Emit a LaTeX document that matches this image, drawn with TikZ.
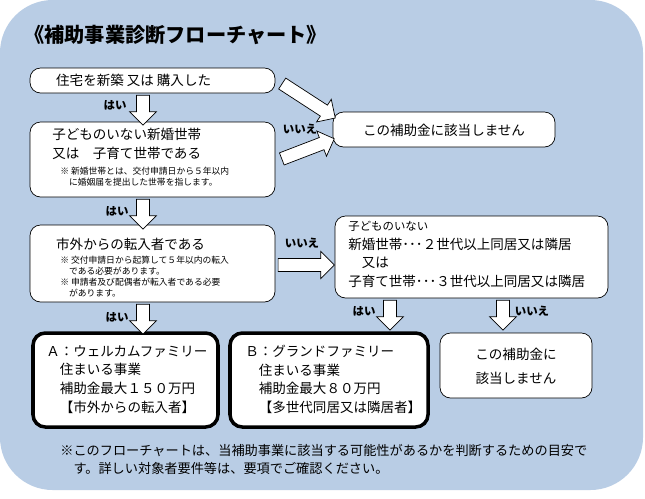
\documentclass[tikz,border=0pt]{standalone}
\usepackage{fontspec}
\newfontfamily\cjk{Noto Sans CJK JP}
\usetikzlibrary{shapes.arrows, positioning}
\definecolor{bgblue}{HTML}{B9CDE5}

\begin{document}
\begin{tikzpicture}[
    x=0.02cm, y=-0.02cm,
    font=\cjk\fontsize{7.7}{10.6}\selectfont,
    step box/.style={draw, fill=white, rounded corners=6pt},
    result box/.style={draw, line width=2pt, fill=white, rounded corners=7pt},
    block arrow/.style={single arrow, draw, fill=white, single arrow head extend=4pt,
        single arrow tip angle=90, inner sep=3.5pt},
    yes no/.style={font=\cjk\bfseries\fontsize{6.5}{7}\selectfont},
    note/.style={font=\cjk\fontsize{5}{6.2}\selectfont, align=left}
]
% background
\fill[white] (0,0) rectangle (645,498);
\fill[bgblue] (0,0) [rounded corners=30pt] rectangle (643,490);
\useasboundingbox (0,0) rectangle (645,498);

\node[font=\cjk\bfseries\fontsize{11.5}{12}\selectfont, anchor=west] (title) at (18,35) {《補助事業診断フローチャート》};

% boxes
\draw[step box] (30,68) rectangle (275,93);
\node[anchor=west] (t1) at (50,80) {住宅を新築 又は 購入した};

\draw[step box] (30,122) rectangle (275,197);
\node[anchor=north west, align=left, inner sep=0pt] (t2) at (52,128) {子どものいない新婚世帯\\又は\quad 子育て世帯である};
\node[note, anchor=north west, inner sep=0pt] (n2) at (60,167) {※ 新婚世帯とは、交付申請日から５年以内\\\quad に婚姻届を提出した世帯を指します。};

\draw[step box] (30,225) rectangle (275,302);
\node[anchor=west] (t3) at (50,244) {市外からの転入者である};
\node[note, anchor=north west, inner sep=0pt] (n3) at (60,256) {※ 交付申請日から起算して５年以内の転入\\\quad である必要があります。\\※ 申請者及び配偶者が転入者である必要\\\quad があります。};

\draw[step box] (333,112) rectangle (555,147);
\node (na1) at (444,130) {この補助金に該当しません};

\draw[step box] (335,216) rectangle (608,298);
\node[anchor=north west, align=left, inner sep=0pt] (t4) at (348,221) {{\fontsize{6.5}{8}\selectfont 子どものいない}\\新婚世帯･･･２世代以上同居又は隣居\\\quad 又は\\子育て世帯･･･３世代以上同居又は隣居};

\draw[result box] (33,333) rectangle (218,427);
\node[anchor=north west, align=left, inner sep=0pt] (ra) at (46,345) {Ａ：ウェルカムファミリー\\\quad 住まいる事業\\\quad 補助金最大１５０万円\\\quad【市外からの転入者】};

\draw[result box] (230,333) rectangle (428,427);
\node[anchor=north west, align=left, inner sep=0pt] (rb) at (245,345) {Ｂ：グランドファミリー\\\quad 住まいる事業\\\quad 補助金最大８０万円\\\quad【多世代同居又は隣居者】};

\draw[step box] (440,333) rectangle (592,398);
\node[align=center] (na2) at (516,366) {この補助金に\\[3pt]該当しません};

% arrows
\node[block arrow, rotate=-90, minimum height=17pt] (a1) at (143,107) {};
\node[block arrow, rotate=-90, minimum height=17pt] (a2) at (143,211) {};
\node[block arrow, rotate=-90, minimum height=17pt] (a3) at (143,316) {};
\node[block arrow, rotate=-90, minimum height=17pt] (a4) at (390,312) {};
\node[block arrow, rotate=-90, minimum height=17pt] (a5) at (503,312) {};
\node[block arrow, rotate=-33, minimum height=36pt] (a6) at (306,99) {};
\node[block arrow, rotate=21, minimum height=32pt] (a7) at (305,150) {};
\node[block arrow, minimum height=32pt] (a8) at (303,265) {};

\node[yes no] (y1) at (115,105) {はい};
\node[yes no] (y2) at (117,211) {はい};
\node[yes no] (y3) at (117,317) {はい};
\node[yes no] (y4) at (364,311) {はい};
\node[yes no] (y5) at (532,311) {いいえ};
\node[yes no] (y6) at (300,129) {いいえ};
\node[yes no] (y7) at (302,243) {いいえ};

\node[anchor=north west, align=left, inner sep=0pt, font=\cjk\fontsize{7.5}{10.2}\selectfont] (foot) at (60,444) {※このフローチャートは、当補助事業に該当する可能性があるかを判断するための目安で\\\quad す。詳しい対象者要件等は、要項でご確認ください。};
\end{tikzpicture}
\end{document}
